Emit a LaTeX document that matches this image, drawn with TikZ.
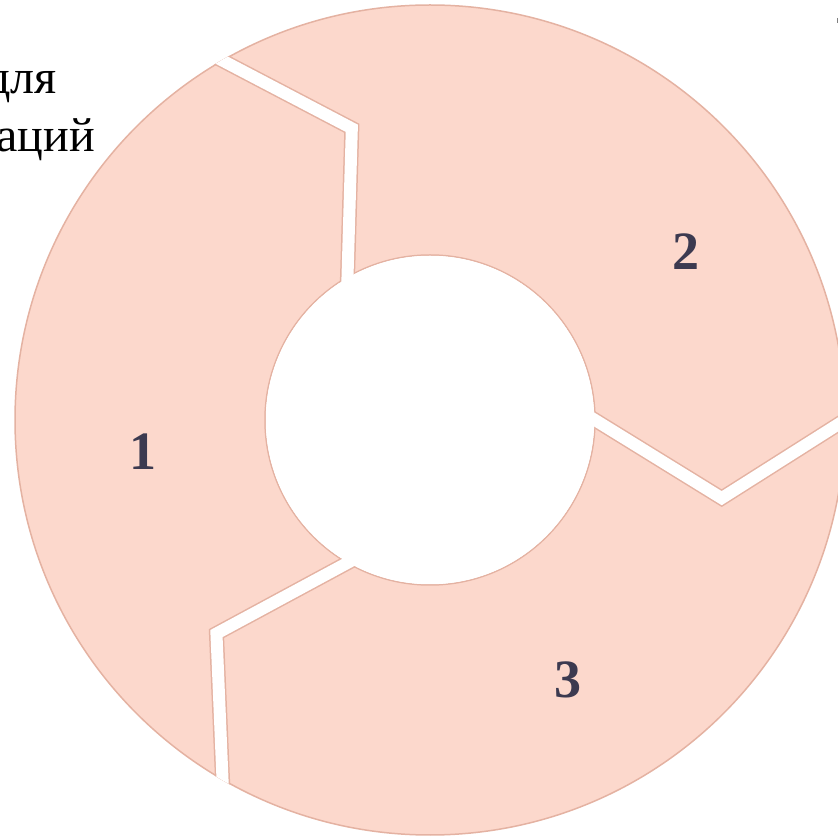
\documentclass[tikz,border=0pt]{standalone}
\usepackage{fontspec}
\setmainfont{Liberation Serif}
\usetikzlibrary{calc}
\definecolor{segfill}{RGB}{252,216,204}
\definecolor{segline}{RGB}{228,178,162}
\definecolor{numcol}{RGB}{60,58,80}
\begin{document}
\begin{tikzpicture}[x=1pt,y=1pt,
  numlabel/.style={font=\fontsize{54}{60}\selectfont\bfseries, text=numcol, inner sep=0pt},
  sidetext/.style={font=\fontsize{48}{56}\selectfont, text=black, inner sep=0pt, anchor=base east},
  gapedge/.style={draw=segline, line width=15pt, line join=miter, miter limit=10},
  gapfill/.style={draw=white, line width=12pt, line join=miter, miter limit=10}]
\useasboundingbox (0,0) rectangle (838,839);
\coordinate (O) at (430,419);
% ring
\fill[segfill, draw=segline, line width=1.5pt, even odd rule]
  (O) circle[radius=415pt] (O) circle[radius=165pt];
% boundary points
\foreach \a [count=\i] in {120,0,240} {
  \coordinate (out\i) at ($(O)+(\a:415pt)$);
  \coordinate (tip\i) at ($(O)+(\a-15:302pt)$);
  \coordinate (in\i) at ($(O)+(\a:165pt)$);
}
% gaps between segments
\begin{scope}
  \clip (O) circle[radius=415.75pt];
  \foreach \i in {1,2,3} {
    \draw[gapedge] ($(tip\i)!1.15!(out\i)$) -- (tip\i) -- ($(tip\i)!1.3!(in\i)$);
    \draw[gapfill] ($(tip\i)!1.15!(out\i)$) -- (tip\i) -- ($(tip\i)!1.3!(in\i)$);
  }
\end{scope}
\fill[white] (O) circle[radius=164.25pt];
% labels
\node[numlabel] (n1) at (143,387) {1};
\node[numlabel] (n2) at (686,587) {2};
\node[numlabel] (n3) at (568,159) {3};
% cropped side text
\node[sidetext] (t1) at (57,745) {для};
\node[sidetext] (t2) at (95,687) {аций};
% tiny mark at top right
\draw[gray, line width=1pt] (837,821) -- (837,816);
\end{tikzpicture}
\end{document}
